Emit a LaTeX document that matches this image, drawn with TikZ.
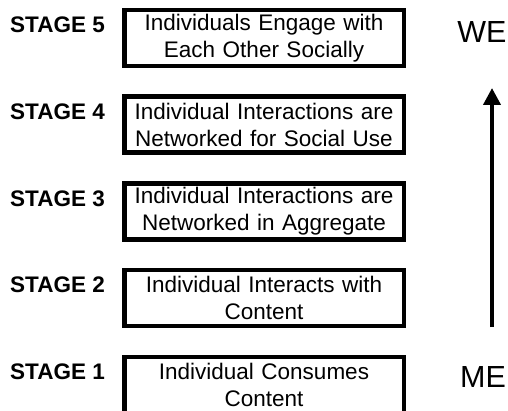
\documentclass[tikz,border=0pt]{standalone}
\usepackage{fontspec}
\setmainfont{Liberation Sans}
\usetikzlibrary{positioning, arrows.meta}

\begin{document}
\begin{tikzpicture}[
    node distance=86.7pt,
    stagebox/.style={draw, line width=4.5pt, minimum width=279.5pt, minimum height=56pt,
        inner sep=0pt, text width=275pt, align=center, font=\fontsize{22.5}{27}\selectfont},
    stagelbl/.style={inner sep=0pt, font=\fontsize{22.5}{27}\selectfont\bfseries},
    endlbl/.style={inner sep=0pt, font=\fontsize{30.5}{34}\selectfont}
]

    % Frame (bottom box runs off the page)
    \path[use as bounding box, clip] (0,0) rectangle (508pt,-411pt);

    % Stages, top to bottom
    \node[stagebox] at (264pt,-38pt) (s5) {Individuals Engage with\\Each Other Socially};
    \node[stagebox, below of=s5] (s4) {Individual Interactions are\\Networked for Social Use};
    \node[stagebox, below of=s4] (s3) {Individual Interactions are\\Networked in Aggregate};
    \node[stagebox, below of=s3] (s2) {Individual Interacts with\\Content};
    \node[stagebox, below of=s2] (s1) {Individual Consumes\\Content};

    % Stage labels
    \node[stagelbl, left=17pt of s5.west, yshift=13pt] (l5) {STAGE 5};
    \node[stagelbl, left=17pt of s4.west, yshift=13pt] (l4) {STAGE 4};
    \node[stagelbl, left=17pt of s3.west, yshift=13pt] (l3) {STAGE 3};
    \node[stagelbl, left=17pt of s2.west, yshift=13pt] (l2) {STAGE 2};
    \node[stagelbl, left=17pt of s1.west, yshift=13pt] (l1) {STAGE 1};

    % Me -> We
    \node[endlbl] at (482pt,-32.5pt) (we) {WE};
    \node[endlbl] at (483pt,-377.5pt) (me) {ME};
    \coordinate (up0) at (492pt,-327pt);
    \coordinate (up1) at (492pt,-88pt);
    \draw[line width=4pt, -{Triangle[width=17pt, length=17pt]}] (up0) -- (up1);

\end{tikzpicture}
\end{document}
